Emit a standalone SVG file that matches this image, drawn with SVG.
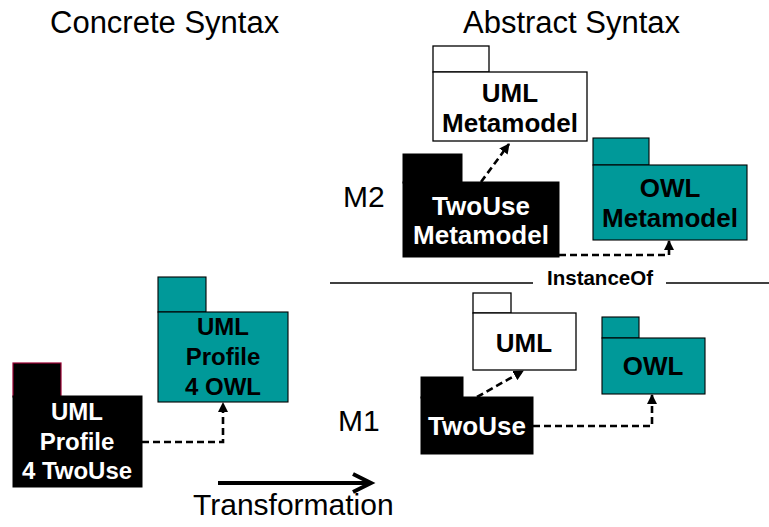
<svg xmlns="http://www.w3.org/2000/svg" width="769" height="527" viewBox="0 0 769 527">
  <defs>
    <marker id="head" viewBox="0 0 10 10" refX="9" refY="5" markerWidth="4" markerHeight="4" orient="auto" markerUnits="strokeWidth">
      <path d="M0,0 L10,5 L0,10 Z" fill="#000"/>
    </marker>
    <style>
      .title { font-family: "Liberation Sans", Arial, sans-serif; font-size: 31px; fill: #000; }
      .lvl { font-family: "Liberation Sans", Arial, sans-serif; font-size: 30px; fill: #000; }
      .lbl { font-family: "Liberation Sans", Arial, sans-serif; font-weight: bold; font-size: 26px; text-anchor: middle; }
      .sm { font-size: 24px; }
      .dark { fill: #000; }
      .light { fill: #fff; }
      .white { fill: #fff; stroke: #000; stroke-width: 1.3; }
      .teal { fill: #009999; stroke: #000; stroke-width: 1.1; }
      .black { fill: #000; stroke: #000; stroke-width: 1; }
      .dep { fill: none; stroke: #000; stroke-width: 2.6; stroke-dasharray: 7 4; marker-end: url(#head); }
      .sep { stroke: #000; stroke-width: 1.3; }
    </style>
  </defs>

  <!-- headings -->
  <text class="title" x="50" y="33">Concrete Syntax</text>
  <text class="title" x="463" y="33">Abstract Syntax</text>
  <text class="lvl" x="343" y="207">M2</text>
  <text class="lvl" x="338" y="431">M1</text>

  <!-- metalevel separator -->
  <g id="instanceof">
    <line class="sep" x1="330" y1="283" x2="533" y2="283"/>
    <line class="sep" x1="666" y1="283" x2="769" y2="283"/>
    <text x="600" y="285" text-anchor="middle" font-family="Liberation Sans, Arial, sans-serif" font-weight="bold" font-size="20.5">InstanceOf</text>
  </g>

  <!-- dependency connectors -->
  <g id="connectors">
    <path class="dep" d="M481,182 L509,144"/>
    <path class="dep" d="M559,255 L669,255 L669,241"/>
    <path class="dep" d="M477,397 L523,371"/>
    <path class="dep" d="M533,426 L652,426 L652,395"/>
    <path class="dep" d="M142,442 L223,442 L223,403"/>
  </g>

  <g id="uml-metamodel">
    <rect class="white" x="433" y="46" width="56" height="26"/>
    <rect class="white" x="433" y="72" width="154" height="69"/>
    <text class="lbl dark" x="510" y="102">UML</text>
    <text class="lbl dark" x="510" y="132">Metamodel</text>
  </g>

  <g id="twouse-metamodel">
    <rect class="black" x="403" y="154" width="59" height="29"/>
    <rect class="black" x="403" y="182" width="156" height="75"/>
    <text class="lbl light" x="481" y="215">TwoUse</text>
    <text class="lbl light" x="481" y="244">Metamodel</text>
  </g>

  <g id="owl-metamodel">
    <rect class="teal" x="593" y="138" width="56" height="27"/>
    <rect class="teal" x="593" y="165" width="154" height="75"/>
    <text class="lbl dark" x="670" y="197">OWL</text>
    <text class="lbl dark" x="670" y="227">Metamodel</text>
  </g>

  <g id="uml">
    <rect class="white" x="473" y="293" width="38" height="20"/>
    <rect class="white" x="473" y="313" width="103" height="57"/>
    <text class="lbl dark" x="524" y="352">UML</text>
  </g>

  <g id="twouse">
    <rect class="black" x="421" y="377" width="42" height="21"/>
    <rect class="black" x="421" y="397" width="112" height="57"/>
    <text class="lbl light" x="477" y="435">TwoUse</text>
  </g>

  <g id="owl">
    <rect class="teal" x="602" y="317" width="37" height="21"/>
    <rect class="teal" x="602" y="338" width="103" height="56"/>
    <text class="lbl dark" x="653" y="375">OWL</text>
  </g>

  <g id="uml-profile-owl">
    <rect class="teal" x="158" y="277" width="48" height="35"/>
    <rect class="teal" x="158" y="312" width="130" height="90"/>
    <text class="lbl sm dark" x="223" y="335">UML</text>
    <text class="lbl sm dark" x="223" y="365">Profile</text>
    <text class="lbl sm dark" x="223" y="395">4 OWL</text>
  </g>

  <g id="uml-profile-twouse">
    <rect x="13" y="363" width="48" height="34" fill="#000" stroke="#990033" stroke-width="1.2"/>
    <rect class="black" x="13" y="396" width="129" height="91"/>
    <text class="lbl sm light" x="77" y="420">UML</text>
    <text class="lbl sm light" x="77" y="450">Profile</text>
    <text class="lbl sm light" x="77" y="479">4 TwoUse</text>
  </g>

  <!-- transformation arrow -->
  <g id="transformation">
    <line x1="218" y1="483" x2="370" y2="483" stroke="#000" stroke-width="4"/>
    <path d="M353,474 L371,483 L353,492" fill="none" stroke="#000" stroke-width="4" stroke-linejoin="miter"/>
    <text class="lvl" x="193" y="515" font-size="31">Transformation</text>
  </g>
</svg>
